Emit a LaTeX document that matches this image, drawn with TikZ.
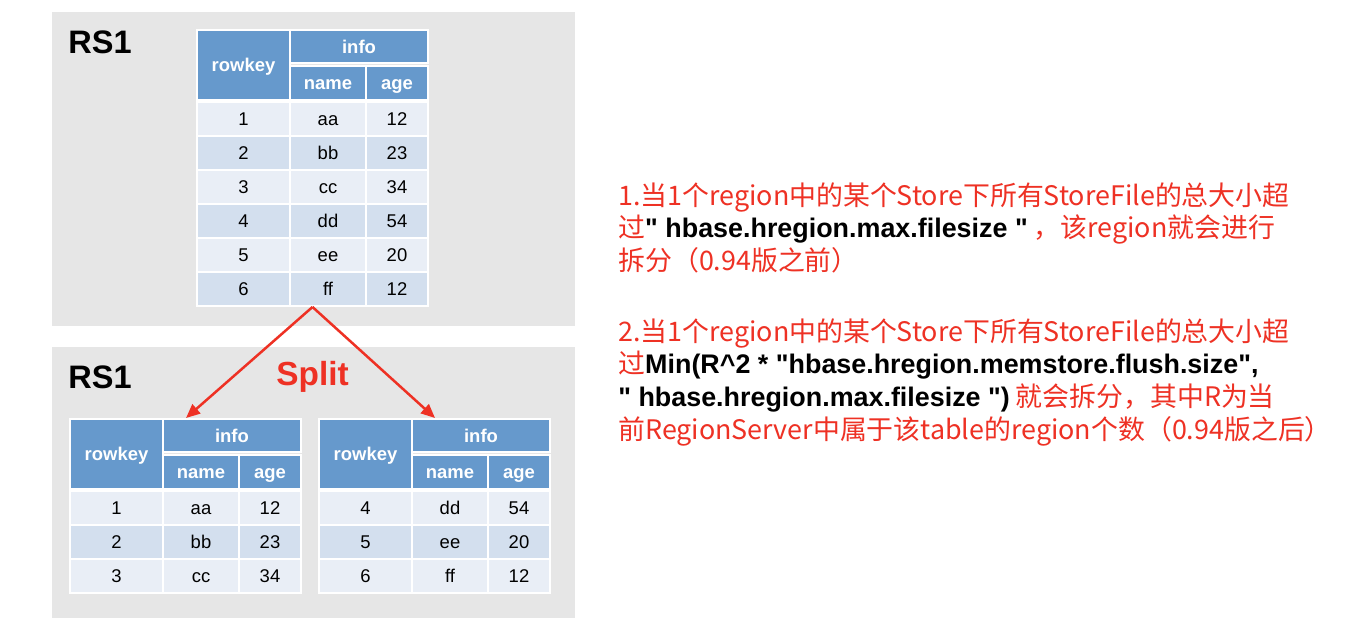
\documentclass[tikz,border=0pt]{standalone}
\usepackage{fontspec}
\setmainfont{Liberation Sans}
\newfontfamily\keyfont{Liberation Sans}
\newfontfamily\cjkfont{Noto Sans CJK SC}
\usepackage{xcolor}
\usepackage{tikz}
\usetikzlibrary{calc,positioning,arrows.meta}
\definecolor{hbred}{HTML}{EE3124}
\definecolor{hbblue}{HTML}{6699CC}
\definecolor{rowlight}{HTML}{E9EEF6}
\definecolor{rowdark}{HTML}{D3DFEE}
\definecolor{panelgrey}{HTML}{E6E6E6}
\newcommand{\keytxt}[1]{{\keyfont\bfseries\color{black}#1}}

\begin{document}
\begin{tikzpicture}[x=0.02cm, y=-0.02cm,
    cell/.style={draw=white, line width=0.04cm, inner sep=0pt, minimum height=0.68cm,
                 text height=7.6pt, text depth=0pt, font=\fontsize{10.5}{12}\selectfont},
    hdr/.style={cell, fill=hbblue, text=white, font=\fontsize{10.5}{12}\selectfont\bfseries},
    rslbl/.style={anchor=base west, inner sep=0pt, font=\fontsize{18.5}{22}\selectfont\bfseries},
    note/.style={anchor=north west, inner sep=0pt, align=left, text=hbred,
                 font=\cjkfont\fontsize{15.3}{18.6}\selectfont},
    splitarrow/.style={hbred, line width=0.05cm, -{Triangle[length=0.28cm, width=0.24cm]}}]
  \useasboundingbox[fill=white] (0,0) rectangle (1365,634);
  % region server panels
  \fill[panelgrey] (52,12) rectangle (575,326);
  \fill[panelgrey] (52,347) rectangle (575,618);
  \node[rslbl] (rs-top) at (68,54) {RS1};
  \node[rslbl] (rs-bot) at (68,389) {RS1};
  % the three region tables
  \foreach \t/\x/\y/\rows in {top/197/30/{1/aa/12/rowlight,2/bb/23/rowdark,3/cc/34/rowlight,4/dd/54/rowdark,5/ee/20/rowlight,6/ff/12/rowdark},
      lft/70/419/{1/aa/12/rowlight,2/bb/23/rowdark,3/cc/34/rowlight},
      rgt/319/419/{4/dd/54/rowlight,5/ee/20/rowdark,6/ff/12/rowlight}} {
    \node[hdr, minimum width=1.86cm, minimum height=1.40cm] (\t-key) at (\x+46.5, \y+35) {rowkey};
    \node[hdr, minimum width=2.76cm, minimum height=0.66cm] (\t-info) at (\x+162, \y+16.5) {info};
    \node[hdr, minimum width=1.52cm] (\t-name) at (\x+131, \y+53) {name};
    \node[hdr, minimum width=1.24cm] (\t-age) at (\x+200, \y+53) {age};
    \foreach \k/\n/\a/\c [count=\i] in \rows {
      \node[cell, fill=\c, minimum width=1.86cm] (\t-\i-key) at (\x+46.5, \y+55+34*\i) {\k};
      \node[cell, fill=\c, minimum width=1.52cm] (\t-\i-name) at (\x+131, \y+55+34*\i) {\n};
      \node[cell, fill=\c, minimum width=1.24cm] (\t-\i-age) at (\x+200, \y+55+34*\i) {\a};
    }
  }
  % split arrows
  \coordinate (splitfrom) at ([xshift=-0.31cm]top-6-name.south);
  \coordinate (lfttip) at ([xshift=0.48cm]lft-info.north west);
  \coordinate (rgttip) at ([xshift=0.48cm]rgt-info.north west);
  \draw[splitarrow] (splitfrom) -- (lfttip);
  \draw[splitarrow] (splitfrom) -- (rgttip);
  \node[anchor=base, inner sep=0pt, text=hbred, font=\fontsize{19}{22}\selectfont\bfseries]
        (splitlbl) at (312.5,385.7) {Split};
  % split rules
  \node[note] (rule1) at (618,182)
        {1.当1个region中的某个Store下所有StoreFile的总大小超\\
         过\keytxt{" hbase.hregion.max.filesize "} ，该region就会进行\\
         拆分（0.94版之前）};
  \node[note] (rule2) at (618,318)
        {2.当1个region中的某个Store下所有StoreFile的总大小超\\
         过\keytxt{Min(R\textasciicircum 2 * "hbase.hregion.memstore.flush.size",}\\
         \keytxt{" hbase.hregion.max.filesize ")} 就会拆分，其中R为当\\
         前RegionServer中属于该table的region个数（0.94版之后）};
\end{tikzpicture}
\end{document}
